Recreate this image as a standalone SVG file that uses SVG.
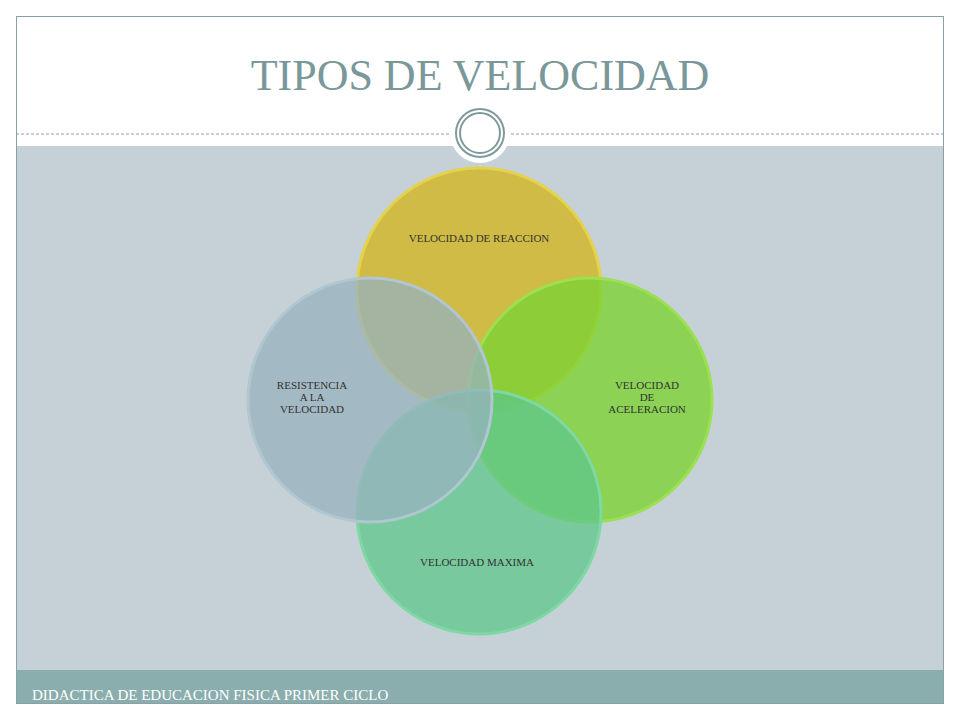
<svg xmlns="http://www.w3.org/2000/svg" width="960" height="720" viewBox="0 0 960 720">
<style>
.c{stroke-width:3;}
.t{font-family:"Liberation Serif",serif;font-size:11px;fill:#333;text-anchor:middle;}
</style>
<rect width="960" height="720" fill="#fff"/>
<rect x="16" y="146" width="928" height="524" fill="#C6D1D7"/>
<rect x="16" y="670" width="928" height="33" fill="#8AADAD"/>
<rect x="16.5" y="16.5" width="927" height="687" fill="none" stroke="#8AA0A8"/>
<line x1="16" y1="134" x2="944" y2="134" stroke="#8AA0A8" stroke-dasharray="3,2"/>
<circle cx="480" cy="133" r="30" fill="#fff"/>
<circle cx="480" cy="133" r="24" fill="none" stroke="#7E9A9C" stroke-width="2"/>
<circle cx="480" cy="133" r="20" fill="none" stroke="#7E9A9C" stroke-width="2"/>
<text x="480" y="90" font-family="Liberation Serif,serif" font-size="44" fill="#7A9799" text-anchor="middle">TIPOS DE VELOCIDAD</text>
<g id="n1"><circle class="c" cx="479" cy="290" r="122" fill="#D1B72E" fill-opacity="0.85" stroke="#E5D24A"/><text class="t" x="479" y="242">VELOCIDAD DE REACCION</text></g>
<g id="n2"><circle class="c" cx="590" cy="400" r="122" fill="#7CD234" fill-opacity="0.8" stroke="#9BE050"/><text class="t" x="647" y="389">VELOCIDAD</text><text class="t" x="647" y="401">DE</text><text class="t" x="647" y="413">ACELERACION</text></g>
<g id="n3"><circle class="c" cx="479" cy="512" r="122" fill="#5EC58A" fill-opacity="0.75" stroke="#7ED8A4"/><text class="t" x="477" y="566">VELOCIDAD MAXIMA</text></g>
<g id="n4"><circle class="c" cx="370" cy="400" r="122" fill="#97B2BF" fill-opacity="0.75" stroke="#B0C6D0"/><text class="t" x="312" y="389">RESISTENCIA</text><text class="t" x="312" y="401">A LA</text><text class="t" x="312" y="413">VELOCIDAD</text></g>
<g id="connectors"/>
<text x="32" y="700" font-family="Liberation Serif,serif" font-size="15" fill="#fff">DIDACTICA DE EDUCACION FISICA PRIMER CICLO</text>
</svg>
